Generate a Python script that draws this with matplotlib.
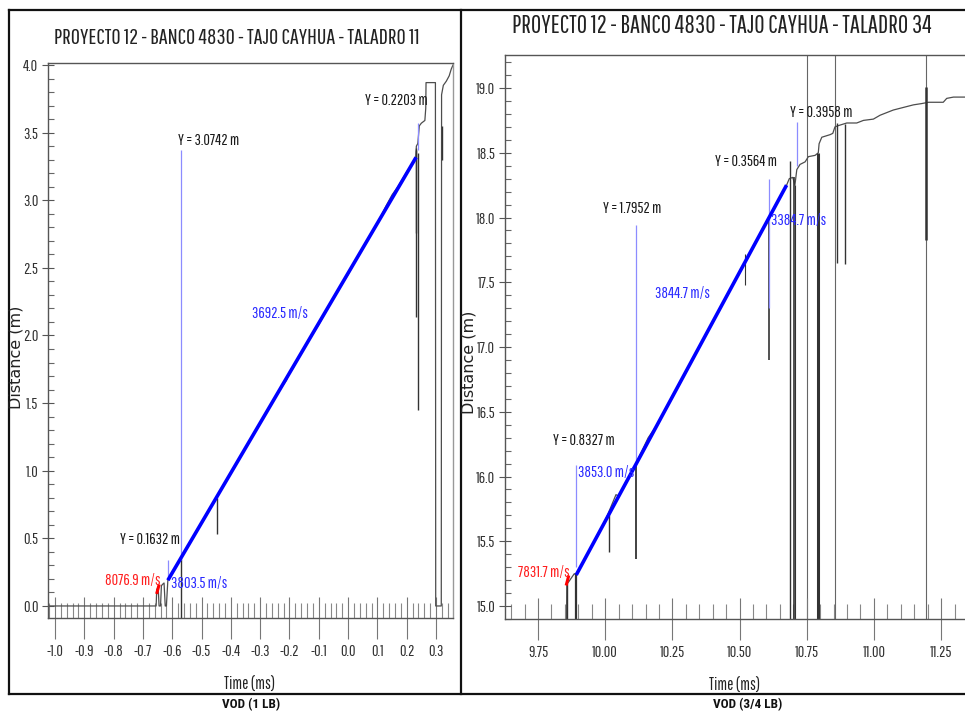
import matplotlib
matplotlib.use("Agg")
import matplotlib.pyplot as plt
from matplotlib.lines import Line2D
from matplotlib.ticker import MultipleLocator

plt.rcParams['font.family'] = ['Pathway Gothic One', 'DejaVu Sans']

# ---- TALADRO 11 (1 LB) ----
t11 = [-1.024, -0.655, -0.653, -0.648, -0.645, -0.64, -0.637, -0.633, -0.628, -0.624, -0.62, -0.615,
       -0.58, -0.55, -0.5, -0.45, -0.40, -0.35, -0.30, -0.25, -0.21, -0.20, -0.19, -0.15, -0.10,
       -0.05, 0.0, 0.05, 0.10, 0.13, 0.15, 0.17, 0.20, 0.22, 0.231, 0.233, 0.238, 0.243, 0.25,
       0.262, 0.265, 0.266, 0.298, 0.299, 0.318, 0.319, 0.325, 0.335, 0.345, 0.352, 0.358]
d11 = [0.0, 0.0, 0.12, 0.14, 0.0, 0.0, 0.15, 0.16, 0.17, 0.0, 0.0, 0.19,
       0.32, 0.43, 0.61, 0.80, 0.98, 1.17, 1.35, 1.54, 1.67, 1.73, 1.75, 1.91, 2.08,
       2.28, 2.45, 2.65, 2.83, 2.96, 3.04, 3.10, 3.21, 3.27, 3.32, 3.40, 3.42, 3.55, 3.57,
       3.59, 3.68, 3.87, 3.87, 0.0, 0.0, 3.78, 3.85, 3.88, 3.92, 3.97, 4.0]
fit11_t = [-0.615, 0.232]
fit11_d0 = 0.19
vod11 = 3692.5
red11_t = [-0.652, -0.646]
red11_d0 = 0.10
vod11_red = 8076.9
spk11_t = [-0.447, 0.2305, 0.233, 0.237, 0.322, -0.571]
spk11_lo = [0.53, 2.76, 2.14, 1.45, 3.30, -0.09]
spk11_hi = [0.80, 3.37, 3.39, 3.35, 3.55, 0.35]
cur11_t = [-0.613, -0.571, 0.237]
cur11_lo = [0.19, 0.34, 3.37]
cur11_hi = [0.34, 3.37, 3.57]
lab11 = [("Y = 3.0742 m", -0.58, 3.445, 'k', 'left'),
         ("3692.5 m/s", -0.328, 2.166, 'b', 'left'),
         ("Y = 0.1632 m", -0.573, 0.488, 'k', 'right'),
         ("8076.9 m/s", -0.64, 0.19, 'r', 'right'),
         ("3803.5 m/s", -0.604, 0.163, 'b', 'left'),
         ("Y = 0.2203 m", 0.273, 3.74, 'k', 'right')]

# ---- TALADRO 34 (3/4 LB) ----
t34 = [9.855, 9.857, 9.865, 9.875, 9.885, 9.892, 9.95, 10.0, 10.04, 10.05, 10.1, 10.16, 10.2,
       10.3, 10.4, 10.5, 10.6, 10.675, 10.685, 10.698, 10.706, 10.713, 10.725, 10.744, 10.756,
       10.781, 10.793, 10.796, 10.806, 10.837, 10.847, 10.855, 10.868, 10.899, 10.936, 10.961,
       10.998, 11.023, 11.072, 11.147, 11.178, 11.203, 11.258, 11.271, 11.296, 11.339]
d34 = [14.5, 15.17, 15.19, 15.22, 15.25, 15.24, 15.46, 15.66, 15.86, 15.85, 16.04, 16.30, 16.42,
       16.81, 17.19, 17.58, 17.96, 18.25, 18.30, 18.31, 18.25, 18.37, 18.41, 18.43, 18.47,
       18.48, 18.50, 18.57, 18.62, 18.64, 18.65, 18.70, 18.71, 18.73, 18.73, 18.75,
       18.76, 18.79, 18.83, 18.87, 18.88, 18.89, 18.89, 18.92, 18.93, 18.93]
fit34_t = [9.892, 10.675]
fit34_d0 = 15.24
vod34 = 3844.7
red34_t = [9.856, 9.863]
red34_d0 = 15.17
vod34_red = 7831.7
spk34_t = [9.858, 9.891, 10.015, 10.116, 10.52, 10.608, 10.688, 10.703, 10.707, 10.793, 10.863, 10.893, 11.194]
spk34_lo = [14.9, 14.9, 15.42, 15.36, 17.48, 16.9, 14.9, 14.9, 14.9, 14.9, 17.65, 17.64, 17.83]
spk34_hi = [15.18, 15.25, 15.70, 16.10, 17.72, 17.99, 18.44, 18.31, 18.25, 18.50, 18.73, 18.72, 19.01]
spk34_w = [1.0, 1.6, 1.0, 1.3, 0.8, 1.2, 1.0, 1.2, 0.8, 2.2, 1.0, 1.0, 1.8]
full34_t = [10.75, 10.855, 11.194]
cur34_t = [9.892, 10.116, 10.608, 10.713]
cur34_lo = [15.30, 16.10, 17.30, 18.40]
cur34_hi = [16.09, 17.94, 18.30, 18.74]
lab34 = [("Y = 1.7952 m", 9.992, 18.07, 'k', 'left'),
         ("3844.7 m/s", 10.185, 17.41, 'b', 'left'),
         ("Y = 0.3564 m", 10.409, 18.43, 'k', 'left'),
         ("3384.7 m/s", 10.617, 17.98, 'b', 'left'),
         ("Y = 0.3958 m", 10.688, 18.81, 'k', 'left'),
         ("Y = 0.8327 m", 9.806, 16.28, 'k', 'left'),
         ("3853.0 m/s", 9.899, 16.03, 'b', 'left'),
         ("7831.7 m/s", 9.869, 15.26, 'r', 'right')]

colors = {'k': '#1a1a1a', 'b': '#2b2bff', 'r': '#ff1f1f'}
W, H = 965, 715


def fx(px):
    return px / W


def fy(py):
    return 1 - py / H


def style_axes(ax, xmaj, xmin, ymaj, ymin):
    for s in ax.spines.values():
        s.set_color('#555555')
        s.set_linewidth(1.0)
    ax.xaxis.set_major_locator(MultipleLocator(xmaj))
    ax.xaxis.set_minor_locator(MultipleLocator(xmin))
    ax.yaxis.set_major_locator(MultipleLocator(ymaj))
    ax.yaxis.set_minor_locator(MultipleLocator(ymin))
    ax.tick_params(axis='x', which='major', direction='inout', length=30, width=0.8,
                   color='#777777', labelsize=11.5, labelcolor='#333333', pad=4)
    ax.tick_params(axis='x', which='minor', direction='in', length=11, width=0.8, color='#888888')
    ax.tick_params(axis='y', which='major', direction='inout', length=8, width=0.8,
                   color='#555555', labelsize=11.5, labelcolor='#333333', pad=3)
    ax.tick_params(axis='y', which='minor', direction='in', length=4, width=0.8, color='#666666')


def draw_panel(ax, t, d, fit_t, fit_d0, vod, red_t, red_d0, vod_red,
               spk_t, spk_lo, spk_hi, spk_w, cur_t, cur_lo, cur_hi, labels):
    ax.plot(t, d, color='#4d4d4d', lw=0.9, zorder=2)
    ax.vlines(spk_t, spk_lo, spk_hi, color='#333333', lw=spk_w, zorder=2)
    ax.vlines(cur_t, cur_lo, cur_hi, color='#8c8cff', lw=0.9, zorder=3)
    fit_d = [fit_d0, fit_d0 + vod / 1000 * (fit_t[1] - fit_t[0])]
    ax.plot(fit_t, fit_d, color='#0000ff', lw=2.6, solid_capstyle='butt', zorder=4)
    red_d = [red_d0, red_d0 + vod_red / 1000 * (red_t[1] - red_t[0])]
    ax.plot(red_t, red_d, color='#ff0000', lw=2.2, zorder=4)
    for txt, x, y, c, ha in labels:
        ax.text(x, y, txt, color=colors[c], ha=ha, va='center', fontsize=11.5, zorder=5)


fig = plt.figure(figsize=(W / 100, H / 100), dpi=100)

ax1 = fig.add_axes([fx(48), fy(618), fx(453 - 48), (618 - 63) / H])
ax1.set_xlim(-1.024, 0.358)
ax1.set_ylim(-0.089, 4.015)
style_axes(ax1, 0.1, 0.02, 0.5, 0.1)
ax1.spines['right'].set_color('#999999')
ax1.xaxis.set_major_formatter(lambda v, p: f"{v:.1f}")
ax1.yaxis.set_major_formatter(lambda v, p: f"{v:.1f}")
draw_panel(ax1, t11, d11, fit11_t, fit11_d0, vod11, red11_t, red11_d0, vod11_red,
           spk11_t, spk11_lo, spk11_hi, 1.0, cur11_t, cur11_lo, cur11_hi, lab11)

ax2 = fig.add_axes([fx(505), fy(619), fx(965 - 505), (619 - 55) / H])
ax2.set_xlim(9.627, 11.339)
ax2.set_ylim(14.90, 19.255)
style_axes(ax2, 0.25, 0.05, 0.5, 0.1)
ax2.spines['right'].set_visible(False)
ax2.xaxis.set_major_formatter(lambda v, p: f"{v:.2f}")
ax2.yaxis.set_major_formatter(lambda v, p: f"{v:.1f}")
ax2.vlines(full34_t, 14.9, 19.255, color='#666666', lw=0.8, zorder=1)
draw_panel(ax2, t34, d34, fit34_t, fit34_d0, vod34, red34_t, red34_d0, vod34_red,
           spk34_t, spk34_lo, spk34_hi, spk34_w, cur34_t, cur34_lo, cur34_hi, lab34)

# titles and axis names
fig.text(fx(237), fy(38), "PROYECTO 12 - BANCO 4830 - TAJO CAYHUA - TALADRO 11",
         ha='center', va='center', fontsize=16.2, color='#222222')
fig.text(fx(722), fy(26), "PROYECTO 12 - BANCO 4830 - TAJO CAYHUA - TALADRO 34",
         ha='center', va='center', fontsize=18.2, color='#222222')
fig.text(fx(16), fy(357), "Distance (m)", rotation=90, ha='center', va='center',
         fontsize=11.5, color='#222222', family='DejaVu Sans')
fig.text(fx(469), fy(362), "Distance (m)", rotation=90, ha='center', va='center',
         fontsize=11.5, color='#222222', family='DejaVu Sans')
fig.text(fx(250), fy(685), "Time (ms)", ha='center', va='center', fontsize=12, color='#222222')
fig.text(fx(735), fy(686), "Time (ms)", ha='center', va='center', fontsize=12, color='#222222')
fig.text(fx(251), fy(705), "VOD (1 LB)", ha='center', va='center', fontsize=9.5,
         fontweight='bold', color='#111111', family='Roboto Condensed')
fig.text(fx(748), fy(705), "VOD (3/4 LB)", ha='center', va='center', fontsize=9.5,
         fontweight='bold', color='#111111', family='Roboto Condensed')

# outer frame and divider
frame = dict(color='#111111', lw=1.6, transform=fig.transFigure)
fig.add_artist(Line2D([fx(9), 1], [fy(10), fy(10)], **frame))
fig.add_artist(Line2D([fx(9), 1], [fy(694), fy(694)], **frame))
fig.add_artist(Line2D([fx(9), fx(9)], [fy(10), fy(694)], **frame))
fig.add_artist(Line2D([fx(461), fx(461)], [fy(10), fy(694)], **frame))

fig.savefig("out.png", dpi=100, facecolor='white')
